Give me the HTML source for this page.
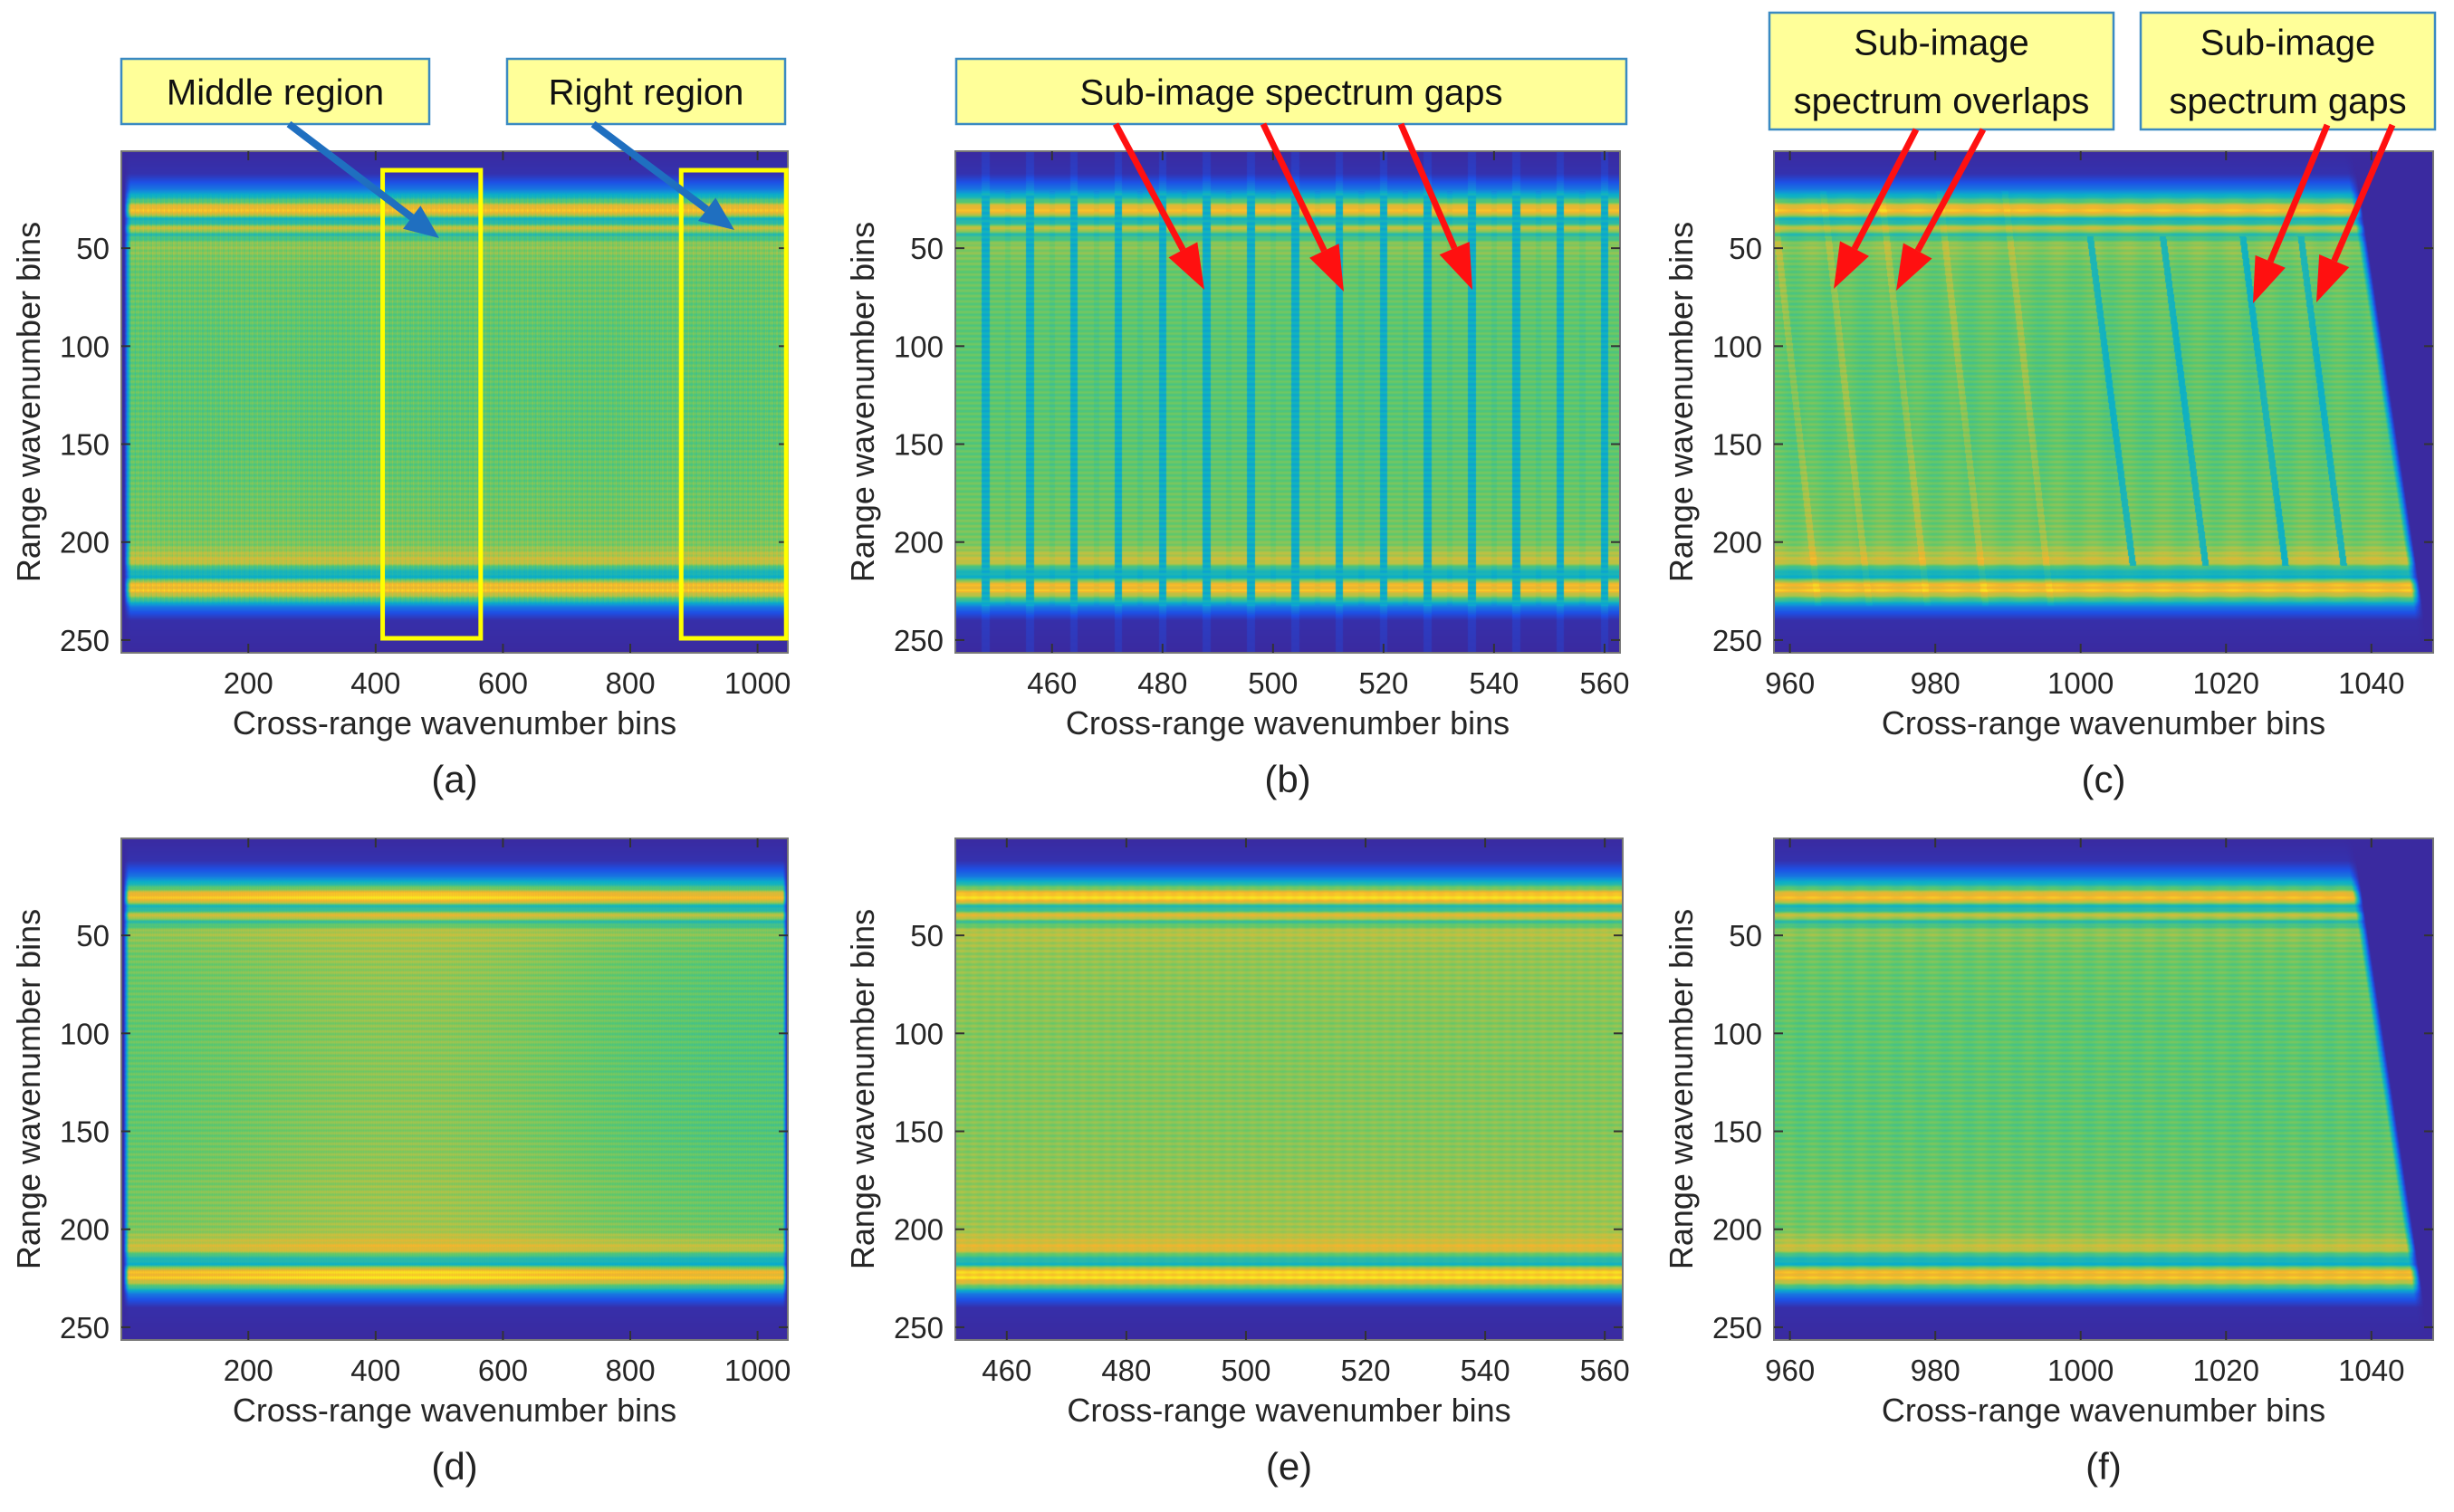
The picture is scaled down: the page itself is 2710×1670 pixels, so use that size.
<!DOCTYPE html>
<html><head><meta charset="utf-8">
<style>
html,body{margin:0;padding:0;background:#fff;}
#root{position:relative;width:2710px;height:1670px;overflow:hidden;background:#fff;}
canvas{position:absolute;}
svg{position:absolute;left:0;top:0;}
text{font-family:"Liberation Sans",Arial,sans-serif;}
</style></head>
<body>
<div id="root">
<svg id="ov" width="2710" height="1670"></svg>
</div>
<script>
// ---- data ----
const rangeBins   = [0, 12, 20, 26, 29, 32, 35, 37, 40, 43, 48, 60, 100, 150, 200, 210, 214, 218, 221, 225, 229, 233, 240, 256];
const rangeLevels = [0, 0.03, 0.25, 0.6, 0.88, 0.88, 0.45, 0.5, 0.82, 0.5, 0.7, 0.64, 0.62, 0.62, 0.66, 0.8, 0.5, 0.42, 0.86, 0.9, 0.6, 0.25, 0.02, 0];
const yTicks = [50, 100, 150, 200, 250];
const xTicksA = [200, 400, 600, 800, 1000];
const xTicksB = [460, 480, 500, 520, 540, 560];
const xTicksC = [960, 980, 1000, 1020, 1040];
const gapColsB = [448, 456, 464, 472, 480, 488, 496, 504, 512, 520, 528, 536, 544, 552, 560];
const overlapLinesC = [958, 965, 973, 981, 990];
const gapLinesC = [1001, 1011, 1022, 1030];
const edgeRowsC = [30, 225];
const edgeColsC = [1037.5, 1045.5];

// parula-like colormap stops
const cmPos = [0, 0.15, 0.3, 0.42, 0.55, 0.62, 0.75, 0.88, 1.0];
const cmCol = [[58,42,160],[30,80,230],[20,140,220],[10,175,200],[60,190,150],[90,200,110],[180,195,70],[245,180,45],[250,240,30]];
function cmap(v){
  v=Math.max(0,Math.min(1,v));
  for(let i=1;i<cmPos.length;i++){ if(v<=cmPos[i]){ const t=(v-cmPos[i-1])/(cmPos[i]-cmPos[i-1]); const a=cmCol[i-1],b=cmCol[i]; return [a[0]+(b[0]-a[0])*t,a[1]+(b[1]-a[1])*t,a[2]+(b[2]-a[2])*t]; } }
  return cmCol[cmCol.length-1];
}
function profile(r){
  for(let i=1;i<rangeBins.length;i++){ if(r<=rangeBins[i]){ const t=(r-rangeBins[i-1])/(rangeBins[i]-rangeBins[i-1]); return rangeLevels[i-1]+(rangeLevels[i]-rangeLevels[i-1])*t; } }
  return 0;
}
const panels = [
 {id:'a',L:134,T:167,R:870,B:721,x0:0.5,x1:1047.5,ticks:xTicksA,cap:'(a)'},
 {id:'b',L:1055,T:167,R:1789,B:721,x0:442.5,x1:562.8,ticks:xTicksB,cap:'(b)'},
 {id:'c',L:1959,T:167,R:2687,B:721,x0:957.8,x1:1048.5,ticks:xTicksC,cap:'(c)'},
 {id:'d',L:134,T:926,R:870,B:1480,x0:0.5,x1:1047.5,ticks:xTicksA,cap:'(d)'},
 {id:'e',L:1055,T:926,R:1792,B:1480,x0:451.4,x1:563,ticks:xTicksB,cap:'(e)'},
 {id:'f',L:1959,T:926,R:2687,B:1480,x0:957.8,x1:1048.5,ticks:xTicksC,cap:'(f)'}
];
function valueAt(k,x,r){
  let p=profile(r);
  const inner = Math.min(1, Math.max(0,(p-0.3)/0.3));
  const body = (r>44 && r<212) ? 1 : 0;
  let v = p + 0.035*Math.sin(r*2.3)*inner;
  if(k==='a'){
    v += 0.03*Math.sin(x*2.7)*inner + 0.02*Math.sin(x*0.77)*inner;
    if(x<15) v*=Math.max(0,(x-5)/10);
  } else if(k==='d'){
    const boost = 0.07*Math.exp(-Math.pow((x-450)/300,2)) - 0.02/(1+Math.exp(-(x-750)/60));
    v += boost*inner + 0.015*Math.sin(x*2.7)*inner;
    if(x<12) v*=Math.max(0,(x-4)/8);
    if(x>1040) v*=Math.max(0,1-(x-1040)/6);
  } else if(k==='b'){
    for(const g of gapColsB){
      const d=Math.abs(x-g);
      if(d<0.7){ v = p>0.3 ? 0.42+0.04*Math.sin(r*2.3) : p+0.05; }
      else if(Math.abs(x-g-4)<0.5 && p>0.3){ v-=0.03; }
    }
  } else if(k==='e'){
    v += 0.06*inner + 0.01*Math.sin(x*3.1)*inner;
  } else if(k==='c' || k==='f'){
    const xe = edgeColsC[0] + (r-edgeRowsC[0])*(edgeColsC[1]-edgeColsC[0])/(edgeRowsC[1]-edgeRowsC[0]);
    if(k==='c'){
      for(const l of overlapLinesC){ const lx=l+(r-35)*0.03; if(Math.abs(x-lx)<0.45 && p>0.3) v+=0.08*(body?1:0.5); }
      for(const l of gapLinesC){ const lx=l+(r-35)*0.035; if(Math.abs(x-lx)<0.45 && p>0.3 && body) v=0.45; }
      v += 0.02*Math.sin(x*1.3)*inner;
    } else {
      v += 0.015*Math.sin(x*1.9)*inner;
    }
    if(x>xe){ v = v*Math.max(0,1-(x-xe)/1.2); }
  }
  return v;
}
const root=document.getElementById('root');
const ov=document.getElementById('ov');
const NS='http://www.w3.org/2000/svg';
function mk(tag,attrs,parent){ const e=document.createElementNS(NS,tag); for(const k in attrs) e.setAttribute(k,attrs[k]); (parent||ov).appendChild(e); return e; }

panels.forEach(P=>{
  const W=P.R-P.L, H=P.B-P.T;
  const cv=document.createElement('canvas');
  
  
  cv.width=W; cv.height=H; cv.style.left=P.L+'px'; cv.style.top=P.T+'px';
  root.insertBefore(cv, ov);
  const ctx=cv.getContext('2d'); const img=ctx.createImageData(W,H);
  const sx=x=>P.x0+(x+0.5)*(P.x1-P.x0)/W;
  for(let py=0;py<H;py++){
    const r=0.5+(py+0.5)*256/H;
    for(let px=0;px<W;px++){
      const c=cmap(valueAt(P.id,sx(px),r));
      const o=(py*W+px)*4; img.data[o]=c[0]; img.data[o+1]=c[1]; img.data[o+2]=c[2]; img.data[o+3]=255;
    }
  }
  ctx.putImageData(img,0,0);
  const xs=v=>P.L+(v-P.x0)*(P.R-P.L)/(P.x1-P.x0);
  const ys=v=>P.T+(v-0.5)*(P.B-P.T)/256;
  const g=mk('g',{});
  
  
  mk('rect',{x:P.L,y:P.T,width:W,height:H,fill:'none',stroke:'#777','stroke-width':2},g);
  P.ticks.forEach(t=>{
    const x=xs(t);
    mk('line',{x1:x,y1:P.B,x2:x,y2:P.B-10,stroke:'#333','stroke-width':2},g);
    mk('line',{x1:x,y1:P.T,x2:x,y2:P.T+10,stroke:'#333','stroke-width':2},g);
    const tx=mk('text',{x:x,y:P.B+45,'font-size':33,'text-anchor':'middle',fill:'#262626'},g);
    
    
    tx.textContent=t;
  });
  yTicks.forEach(t=>{
    const y=ys(t);
    mk('line',{x1:P.L,y1:y,x2:P.L+10,y2:y,stroke:'#333','stroke-width':2},g);
    mk('line',{x1:P.R,y1:y,x2:P.R-10,y2:y,stroke:'#333','stroke-width':2},g);
    const tx=mk('text',{x:P.L-13,y:y+12,'font-size':33,'text-anchor':'end',fill:'#262626'},g);
    
    
    tx.textContent=t;
  });
  const xl=mk('text',{x:(P.L+P.R)/2,y:P.B+90,'font-size':36,'text-anchor':'middle',fill:'#262626'},g);
  
  
  xl.textContent='Cross-range wavenumber bins';
  const cy=(P.T+P.B)/2, cx=P.L-90;
  const yl=mk('text',{x:cx,y:cy,'font-size':36,'text-anchor':'middle',fill:'#262626',transform:'rotate(-90 '+cx+' '+cy+')'},g);
  
  
  yl.textContent='Range wavenumber bins';
  const cp=mk('text',{x:(P.L+P.R)/2,y:P.B+154,'font-size':42,'text-anchor':'middle',fill:'#222'},g);
  
  
  cp.textContent=P.cap;
});

// yellow region rectangles on panel (a)
[[411,565],[880,1045]].forEach((rg,i)=>{
  const P=panels[0]; const xs=v=>P.L+(v-P.x0)*(P.R-P.L)/(P.x1-P.x0);
  const r=mk('rect',{x:xs(rg[0]),y:188,width:xs(rg[1])-xs(rg[0]),height:517,fill:'none',stroke:'#ffff00','stroke-width':5});
  
  
});

// callout boxes
function callout(name,x,y,w,h,lines,fs){
  const g=mk('g',{});
  
  
  mk('rect',{x:x,y:y,width:w,height:h,fill:'#ffff99',stroke:'#3a8ac2','stroke-width':2.5},g);
  lines.forEach((s,i)=>{
    const t=mk('text',{x:x+w/2,y:y+(h/(lines.length))*(i+0.5)+fs*0.36,'font-size':fs,'text-anchor':'middle',fill:'#111'},g);
    t.textContent=s;
  });
}
callout('middle-region-label',134,65,340,72,['Middle  region'],40);
callout('right-region-label',560,65,307,72,['Right region'],40);
callout('spectrum-gaps-label-b',1056,65,740,72,['Sub-image spectrum gaps'],40);
callout('spectrum-overlaps-label-c',1954,14,380,129,['Sub-image','spectrum overlaps'],40);
callout('spectrum-gaps-label-c',2364,14,325,129,['Sub-image','spectrum gaps'],40);

// arrows
function arrow(name,x1,y1,x2,y2,col,w,hl,hw){
  const g=mk('g',{});
  
  
  const dx=x2-x1,dy=y2-y1,L=Math.hypot(dx,dy),ux=dx/L,uy=dy/L;
  const bx=x2-ux*hl,by=y2-uy*hl;
  mk('line',{x1:x1,y1:y1,x2:bx,y2:by,stroke:col,'stroke-width':w},g);
  mk('polygon',{points:`${x2},${y2} ${bx-uy*hw},${by+ux*hw} ${bx+uy*hw},${by-ux*hw}`,fill:col},g);
}
arrow('arrow-middle',319,137,485,263,'#1f6fc0',8,38,16);
arrow('arrow-right',655,137,811,254,'#1f6fc0',8,38,16);
arrow('arrow-gap-1',1232,137,1330,320,'#ff1010',7,50,18);
arrow('arrow-gap-2',1395,137,1484,322,'#ff1010',7,50,18);
arrow('arrow-gap-3',1547,137,1626,320,'#ff1010',7,50,18);
arrow('arrow-overlap-1',2116,143,2025,319,'#ff1010',7,50,18);
arrow('arrow-overlap-2',2190,143,2094,321,'#ff1010',7,50,18);
arrow('arrow-gap-c-1',2570,138,2488,335,'#ff1010',7,50,18);
arrow('arrow-gap-c-2',2642,138,2558,334,'#ff1010',7,50,18);
</script>
</body></html>
